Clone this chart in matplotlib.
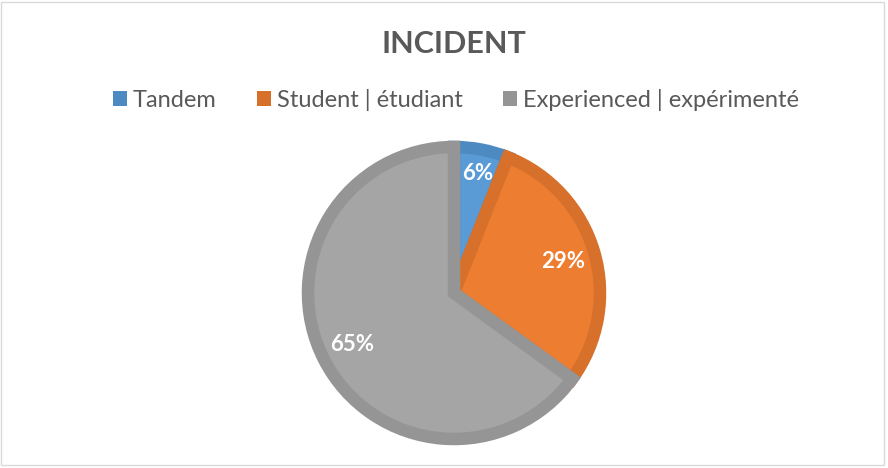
import matplotlib.pyplot as plt
from matplotlib.patches import Rectangle

# data
labels = ['Tandem', 'Student | étudiant', 'Experienced | expérimenté']
shares = [6, 29, 65]
fill_colors = ['#5B9BD5', '#ED7D31', '#A5A5A5']
edge_colors = ['#4E8AC2', '#D6702A', '#959595']

plt.rcParams['font.family'] = ['Lato', 'DejaVu Sans']

fig = plt.figure(figsize=(8.88, 4.68), dpi=100)
W, H = 888, 468

# outer chart frame
fig.patches.append(Rectangle((1 / W, 3 / H), 883 / W, 463 / H, transform=fig.transFigure,
                             fill=False, edgecolor='#D9D9D9', linewidth=1))

# pie axes: centre ~(453, 293) px from top, radius ~148 px
cx, cy, r = 454, 468 - 293, 146
ax = fig.add_axes([(cx - r) / W, (cy - r) / H, 2 * r / W, 2 * r / H])

wedges, texts, autotexts = ax.pie(shares, colors=fill_colors, startangle=90, counterclock=False,
                                  radius=1, autopct='%1.0f%%', pctdistance=0.78,
                                  textprops=dict(color='white', fontsize=16, fontweight='bold'))
for w, ec in zip(wedges, edge_colors):
    w.set_edgecolor(ec)
    w.set_linewidth(9)
    w.set_clip_path(w)  # keep only the inner half of the stroke
autotexts[0].set_position((0.16, 0.82))
ax.set_xlim(-1.0, 1.0)
ax.set_ylim(-1.0, 1.0)
ax.axis('off')

fig.text(454 / W, 1 - 44 / H, 'INCIDENT', ha='center', va='center',
         fontsize=22, fontweight='bold', color='#595959')

handles = [Rectangle((0, 0), 1, 1, facecolor=c, edgecolor='none') for c in edge_colors]
fig.legend(handles, labels, loc='center', bbox_to_anchor=(456 / W, 1 - 100 / H), ncol=3,
           frameon=False, fontsize=17, labelcolor='#595959', handlelength=0.6,
           handleheight=0.6, handletextpad=0.25, columnspacing=1.7)

fig.savefig('out.png', dpi=100)
